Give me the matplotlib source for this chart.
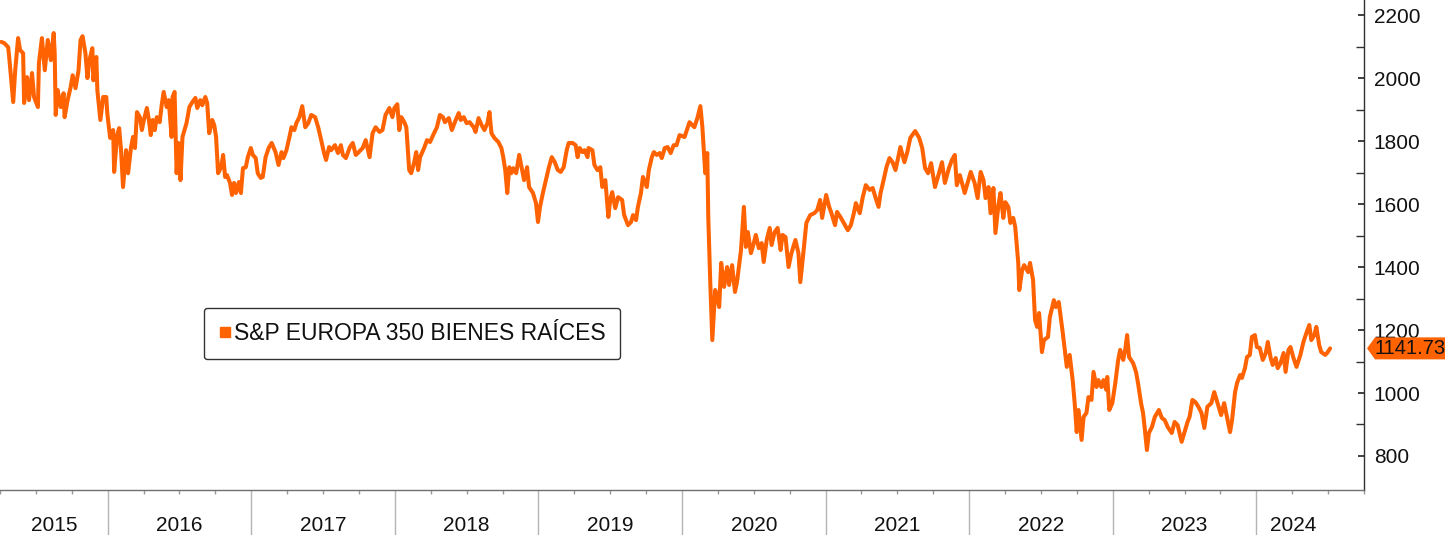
import matplotlib
matplotlib.use("Agg")
import matplotlib.pyplot as plt
from matplotlib.lines import Line2D
from matplotlib.patches import Polygon
from matplotlib.transforms import blended_transform_factory, IdentityTransform
import numpy as np

plt.rcParams['font.family'] = ['Liberation Sans', 'DejaVu Sans']

# ---- data: (decimal year, index level) ----
data_2015 = [(2015.259,2115),(2015.280,2111),(2015.307,2098),(2015.314,2067),(2015.342,1924),(2015.356,2025),(2015.376,2127),(2015.390,2089),(2015.411,2079),(2015.418,1921),(2015.438,2003),(2015.452,1930),(2015.473,2016),(2015.487,1940),(2015.514,1908),(2015.521,2048),(2015.542,2127),(2015.556,2057),(2015.562,2025),(2015.583,2121),(2015.604,2057),(2015.624,2143),(2015.631,2079),(2015.638,1883),(2015.652,1962),(2015.673,1908),(2015.693,1952),(2015.700,1876),(2015.721,1930),(2015.742,1971),(2015.756,2009),(2015.776,1968),(2015.797,2025),(2015.811,2121),(2015.825,2133),(2015.845,2079),(2015.859,2000),(2015.873,2057),(2015.893,2095),(2015.900,1993),(2015.921,2067),(2015.928,1962),(2015.949,1867),(2015.969,1940),(2015.990,1940),(2015.997,1889)]
data_2016 = [(2016.017,1810),(2016.038,1835),(2016.045,1702),(2016.066,1819),(2016.080,1841),(2016.093,1771),(2016.107,1654),(2016.128,1771),(2016.142,1698),(2016.162,1778),(2016.176,1813),(2016.190,1778),(2016.204,1892),(2016.224,1876),(2016.238,1835),(2016.252,1867),(2016.273,1905),(2016.287,1867),(2016.300,1819),(2016.314,1867),(2016.328,1835),(2016.342,1876),(2016.362,1860),(2016.376,1914),(2016.390,1956),(2016.411,1908),(2016.425,1930),(2016.445,1813),(2016.452,1940),(2016.466,1956),(2016.480,1698),(2016.493,1794),(2016.507,1676),(2016.521,1813),(2016.549,1857),(2016.569,1908),(2016.590,1924),(2016.611,1937),(2016.624,1905),(2016.645,1930),(2016.659,1914),(2016.680,1940),(2016.693,1921),(2016.707,1825),(2016.728,1867),(2016.742,1851),(2016.755,1813),(2016.769,1698),(2016.790,1717),(2016.804,1756),(2016.818,1686),(2016.831,1692),(2016.852,1667),(2016.866,1629),(2016.880,1667),(2016.893,1635),(2016.914,1670),(2016.928,1635),(2016.942,1714),(2016.962,1717),(2016.976,1749),(2016.997,1778)]
data_2017 = [(2017.011,1756),(2017.031,1746),(2017.045,1698),(2017.066,1683),(2017.080,1686),(2017.100,1749),(2017.121,1778),(2017.142,1794),(2017.169,1765),(2017.190,1724),(2017.211,1765),(2017.224,1746),(2017.245,1771),(2017.266,1813),(2017.280,1844),(2017.300,1835),(2017.314,1857),(2017.335,1876),(2017.355,1911),(2017.376,1844),(2017.397,1857),(2017.418,1883),(2017.445,1876),(2017.466,1844),(2017.487,1803),(2017.507,1762),(2017.521,1740),(2017.542,1781),(2017.556,1771),(2017.583,1787),(2017.604,1762),(2017.624,1787),(2017.638,1756),(2017.659,1746),(2017.687,1781),(2017.707,1794),(2017.728,1756),(2017.742,1762),(2017.776,1778),(2017.797,1803),(2017.824,1749),(2017.845,1825),(2017.866,1844),(2017.893,1829),(2017.914,1835),(2017.935,1883),(2017.962,1905),(2017.983,1876),(2017.997,1905)]
data_2018 = [(2018.017,1917),(2018.031,1835),(2018.045,1876),(2018.066,1860),(2018.080,1844),(2018.100,1708),(2018.114,1698),(2018.135,1733),(2018.149,1765),(2018.162,1708),(2018.176,1749),(2018.204,1778),(2018.224,1803),(2018.245,1797),(2018.273,1825),(2018.293,1844),(2018.314,1883),(2018.335,1876),(2018.349,1860),(2018.376,1873),(2018.397,1835),(2018.418,1860),(2018.445,1889),(2018.459,1867),(2018.480,1876),(2018.500,1857),(2018.521,1860),(2018.549,1844),(2018.562,1829),(2018.583,1873),(2018.604,1851),(2018.624,1835),(2018.645,1857),(2018.659,1892),(2018.673,1825),(2018.693,1810),(2018.721,1797),(2018.742,1778),(2018.755,1749),(2018.769,1708),(2018.783,1635),(2018.797,1717),(2018.811,1698),(2018.824,1714),(2018.845,1698),(2018.866,1756),(2018.886,1708),(2018.900,1676),(2018.921,1717),(2018.935,1654),(2018.962,1635),(2018.983,1603),(2018.997,1543)]
data_2019 = [(2019.011,1591),(2019.031,1635),(2019.052,1676),(2019.073,1717),(2019.093,1749),(2019.114,1733),(2019.135,1708),(2019.155,1702),(2019.176,1717),(2019.197,1771),(2019.211,1794),(2019.238,1794),(2019.259,1787),(2019.273,1749),(2019.287,1778),(2019.307,1765),(2019.321,1771),(2019.342,1749),(2019.349,1778),(2019.376,1771),(2019.390,1724),(2019.411,1708),(2019.431,1717),(2019.445,1654),(2019.466,1676),(2019.487,1559),(2019.500,1613),(2019.514,1638),(2019.535,1587),(2019.555,1622),(2019.583,1613),(2019.597,1565),(2019.624,1533),(2019.645,1543),(2019.659,1565),(2019.680,1549),(2019.693,1591),(2019.714,1635),(2019.728,1686),(2019.755,1654),(2019.769,1708),(2019.790,1749),(2019.804,1765),(2019.824,1756),(2019.845,1762),(2019.859,1746),(2019.880,1778),(2019.900,1781),(2019.921,1762),(2019.942,1787),(2019.962,1787),(2019.983,1819)]
data_2020 = [(2020.018,1813),(2020.052,1860),(2020.086,1844),(2020.107,1873),(2020.128,1911),(2020.142,1844),(2020.162,1698),(2020.176,1762),(2020.183,1559),(2020.197,1349),(2020.211,1168),(2020.231,1327),(2020.245,1305),(2020.259,1273),(2020.273,1413),(2020.293,1337),(2020.314,1400),(2020.328,1343),(2020.349,1406),(2020.369,1321),(2020.383,1352),(2020.411,1454),(2020.431,1591),(2020.445,1464),(2020.459,1511),(2020.480,1444),(2020.500,1476),(2020.514,1502),(2020.535,1460),(2020.555,1476),(2020.569,1416),(2020.590,1486),(2020.611,1524),(2020.624,1470),(2020.645,1511),(2020.666,1524),(2020.687,1454),(2020.700,1502),(2020.721,1495),(2020.742,1400),(2020.762,1444),(2020.790,1486),(2020.811,1444),(2020.824,1352),(2020.845,1444),(2020.866,1540),(2020.893,1565),(2020.921,1571),(2020.942,1581),(2020.962,1613),(2020.976,1556)]
data_2021 = [(2021.004,1629),(2021.025,1591),(2021.038,1575),(2021.066,1533),(2021.080,1575),(2021.107,1556),(2021.135,1533),(2021.155,1517),(2021.176,1533),(2021.197,1571),(2021.211,1603),(2021.238,1571),(2021.259,1622),(2021.280,1660),(2021.307,1645),(2021.328,1651),(2021.349,1619),(2021.369,1591),(2021.383,1635),(2021.404,1676),(2021.424,1717),(2021.445,1746),(2021.466,1733),(2021.487,1708),(2021.521,1781),(2021.549,1733),(2021.569,1765),(2021.590,1810),(2021.624,1832),(2021.652,1810),(2021.673,1778),(2021.693,1714),(2021.714,1698),(2021.735,1730),(2021.762,1654),(2021.790,1698),(2021.811,1733),(2021.831,1667),(2021.859,1714),(2021.880,1740),(2021.900,1756),(2021.914,1660),(2021.935,1692),(2021.969,1635)]
data_2022 = [(2022.011,1702),(2022.038,1667),(2022.059,1619),(2022.080,1702),(2022.100,1676),(2022.114,1619),(2022.135,1654),(2022.149,1571),(2022.169,1651),(2022.183,1508),(2022.204,1597),(2022.218,1635),(2022.238,1556),(2022.252,1606),(2022.273,1591),(2022.287,1540),(2022.307,1556),(2022.321,1527),(2022.342,1413),(2022.349,1327),(2022.369,1390),(2022.383,1406),(2022.411,1384),(2022.424,1413),(2022.445,1359),(2022.459,1232),(2022.473,1210),(2022.487,1254),(2022.507,1130),(2022.521,1168),(2022.549,1178),(2022.562,1241),(2022.590,1295),(2022.604,1273),(2022.624,1289),(2022.652,1191),(2022.666,1137),(2022.680,1083),(2022.700,1121),(2022.721,1041),(2022.735,968),(2022.749,876),(2022.762,946),(2022.783,851),(2022.797,924),(2022.817,937),(2022.831,987),(2022.852,978),(2022.866,1067),(2022.887,1019),(2022.900,1041),(2022.921,1019),(2022.935,1041),(2022.955,1010),(2022.962,1051),(2022.976,946),(2022.997,968)]
data_2023 = [(2023.018,1032),(2023.038,1105),(2023.052,1137),(2023.073,1105),(2023.087,1137),(2023.100,1184),(2023.114,1114),(2023.142,1095),(2023.162,1067),(2023.176,1032),(2023.197,968),(2023.211,937),(2023.224,883),(2023.238,819),(2023.252,873),(2023.273,892),(2023.293,924),(2023.321,946),(2023.342,921),(2023.362,914),(2023.383,892),(2023.411,873),(2023.431,908),(2023.452,898),(2023.480,845),(2023.500,876),(2023.521,908),(2023.535,924),(2023.555,978),(2023.576,971),(2023.597,956),(2023.618,937),(2023.638,889),(2023.659,956),(2023.687,968),(2023.707,1003),(2023.728,971),(2023.755,930),(2023.776,968),(2023.797,921),(2023.817,876),(2023.831,914),(2023.852,1003),(2023.866,1032),(2023.887,1057),(2023.900,1048),(2023.921,1079),(2023.935,1114),(2023.955,1121),(2023.969,1178),(2023.990,1184)]
data_2024 = [(2024.004,1146),(2024.024,1143),(2024.045,1105),(2024.066,1127),(2024.080,1162),(2024.100,1111),(2024.114,1089),(2024.135,1111),(2024.149,1079),(2024.169,1095),(2024.190,1127),(2024.204,1067),(2024.224,1137),(2024.238,1146),(2024.259,1111),(2024.280,1083),(2024.307,1121),(2024.328,1162),(2024.349,1191),(2024.369,1216),(2024.383,1168),(2024.404,1184),(2024.418,1210),(2024.438,1152),(2024.452,1130),(2024.480,1121),(2024.493,1127),(2024.514,1141.73)]

years = [2015, 2016, 2017, 2018, 2019, 2020, 2021, 2022, 2023, 2024]
year_labels = ["2015", "2016", "2017", "2018", "2019", "2020", "2021", "2022", "2023", "2024"]
y_ticks = [800, 1000, 1200, 1400, 1600, 1800, 2000, 2200]
series_name = "S&P EUROPA 350 BIENES RAÍCES"
last_value = 1141.73

ORANGE = "#FF6200"

all_pts = (data_2015 + data_2016 + data_2017 + data_2018 + data_2019 +
           data_2020 + data_2021 + data_2022 + data_2023 + data_2024)
t = np.array([p[0] for p in all_pts])
v = np.array([p[1] for p in all_pts])

fig = plt.figure(figsize=(14.45, 5.35), dpi=100)
ax = fig.add_axes([0.0, 1 - 490 / 535, 1364 / 1445, 490 / 535])

ax.plot(t, v, color=ORANGE, lw=2.9, solid_joinstyle='round', solid_capstyle='round')

ax.set_xlim(2015.259, 2024.666)
ax.set_ylim(692, 2248)

for s in ['top', 'left']:
    ax.spines[s].set_visible(False)
ax.spines['right'].set_color('#303030')
ax.spines['bottom'].set_color('#707070')
ax.spines['right'].set_linewidth(1.0)
ax.spines['bottom'].set_linewidth(1.0)

# y axis on right
ax.yaxis.tick_right()
ax.set_yticks(y_ticks)
ax.set_yticklabels([str(y) for y in y_ticks])
ax.set_yticks([y + 100 for y in y_ticks[:-1]], minor=True)
ax.tick_params(axis='y', which='major', direction='in', length=4, width=1.3,
               color='#303030', labelsize=15, pad=7, labelcolor='#111111')
ax.tick_params(axis='y', which='minor', direction='in', length=6, width=1, color='#303030')

# x axis: year separators + quarterly minor ticks
ax.set_xticks(years[1:])
ax.set_xticklabels([])
ax.set_xticks([y + q / 4 for y in years for q in (1, 2, 3)], minor=True)
ax.tick_params(axis='x', which='major', direction='out', length=33, width=1, color='#b4b4b4')
ax.tick_params(axis='x', which='minor', direction='out', length=3, width=1, color='#9a9a9a')

tr = blended_transform_factory(ax.transData, ax.transAxes)
for yr, lab in zip(years, year_labels):
    lo = max(yr, t[0])
    hi = min(yr + 1, t[-1])
    ax.text((lo + hi) / 2, -0.073, lab, transform=tr, ha='center', va='center',
            fontsize=15, color='#111111', clip_on=False)

# legend
handle = Line2D([], [], marker='s', ls='none', color=ORANGE, markersize=7.5)
leg = ax.legend([handle], [series_name], loc='upper left',
                bbox_to_anchor=(204 / 1364, 1 - 308 / 490), borderaxespad=0,
                frameon=True, fancybox=True, framealpha=1, edgecolor='#333333',
                handletextpad=0.15, handlelength=0.55, borderpad=0.62,
                prop={'size': 16.5})
leg.get_frame().set_linewidth(1.0)
leg.get_frame().set_boxstyle('round,pad=0,rounding_size=0.15')
for txt in leg.get_texts():
    txt.set_color('#111111')

# last value tag (pentagon pointing left at the axis)
trl = blended_transform_factory(ax.transAxes, ax.transData)
ax_px, y_px = trl.transform((1.0, last_value))
fig_w = fig.get_size_inches()[0] * fig.dpi
h = 11
tag = Polygon([(ax_px + 3, y_px), (ax_px + 11, y_px + h), (fig_w + 5, y_px + h),
               (fig_w + 5, y_px - h), (ax_px + 11, y_px - h)],
              closed=True, transform=IdentityTransform(), fc=ORANGE, ec='none',
              clip_on=False)
fig.patches.append(tag)
fig.text((ax_px + 10) / fig_w, y_px / (fig.get_size_inches()[1] * fig.dpi),
         f"{last_value:.2f}", ha='left', va='center', fontsize=14.5, color='#111111')

fig.savefig("out.png", dpi=100)
